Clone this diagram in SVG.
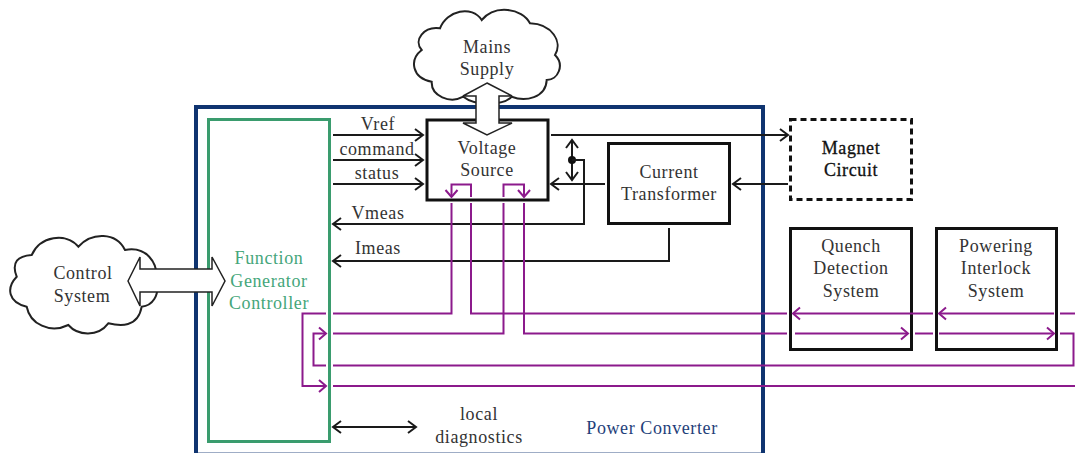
<svg xmlns="http://www.w3.org/2000/svg" width="1075" height="453" viewBox="0 0 1075 453">
<style>
text{font-family:"Liberation Serif","Times New Roman",serif;font-size:18px;letter-spacing:.6px;fill:#333;text-anchor:middle}
.box{fill:#fff;stroke:#111;stroke-width:3}
.cloud{fill:#fff;stroke:#222;stroke-width:2}
.blk{fill:none;stroke:#1a1a1a;stroke-width:2}
.pur{fill:none;stroke:#8c1a8c;stroke-width:2}
.block{fill:#fff;stroke:#222;stroke-width:1.5}
.a{marker-end:url(#ak)}
.b{marker-start:url(#aks);marker-end:url(#ak)}
.p{marker-end:url(#ap)}
</style>
<defs>
<marker id="ak" markerUnits="userSpaceOnUse" markerWidth="20" markerHeight="20" refX="10" refY="10" orient="auto" overflow="visible"><path d="M2,4 L10,10 L2,16" fill="none" stroke="#1a1a1a" stroke-width="2"/></marker>
<marker id="aks" markerUnits="userSpaceOnUse" markerWidth="20" markerHeight="20" refX="10" refY="10" orient="auto-start-reverse" overflow="visible"><path d="M2,4 L10,10 L2,16" fill="none" stroke="#1a1a1a" stroke-width="2"/></marker>
<marker id="ap" markerUnits="userSpaceOnUse" markerWidth="20" markerHeight="20" refX="10" refY="10" orient="auto" overflow="visible"><path d="M3,4 L10,10 L3,16" fill="none" stroke="#8c1a8c" stroke-width="2"/></marker>
</defs>

<g id="mains-supply">
<path class="cloud" d="M421.700,50 C413,40 424,26 440,28.300 C447,10 472,5 481.700,20 C495,4 522,8 530,23.300 C552,24 563,42 555,55 C565,65 558,80 546.700,80 C546,98 525,102 511.700,96.700 C503,106 475,106 463.300,96.700 C450,104 431,96 431.700,81.700 C412,78 409,60 421.700,50 Z"/>
<text x="487" y="53">Mains</text>
<text x="487" y="75">Supply</text>
</g>

<g id="control-system">
<path class="cloud" d="M16.700,276.700 C11,262 18,256 31.700,255 C40,236 66,232 78.300,246.700 C92,232 116,232 125,250 C146,246 158,262 156.700,280 C160,296 152,306 141.700,306.700 C138,328 120,326 108.300,323.300 C98,337 78,336 68.300,325 C50,334 30,324 26.700,306.700 C8,302 6,288 16.700,276.700 Z"/>
<text x="83" y="279">Control</text>
<text x="82" y="302">System</text>
</g>

<g id="power-converter">
<rect x="196" y="107" width="567" height="347.600" fill="none" stroke="#0f3470" stroke-width="4"/>
<text x="652" y="434" style="fill:#1f3f7a">Power Converter</text>
</g>

<g id="function-generator-controller">
<rect x="208.500" y="119.500" width="121" height="322" fill="#fff" stroke="#3a9c6e" stroke-width="3"/>
<text x="269" y="264" style="fill:#45a67a">Function</text>
<text x="269" y="287" style="fill:#45a67a">Generator</text>
<text x="269" y="309" style="fill:#45a67a">Controller</text>
</g>

<g id="voltage-source">
<rect class="box" x="427" y="120" width="121" height="80"/>
<text x="487" y="154">Voltage</text>
<text x="487" y="176">Source</text>
</g>

<g id="current-transformer">
<rect class="box" x="608.500" y="143.500" width="121" height="80"/>
<text x="669" y="178">Current</text>
<text x="669" y="200">Transformer</text>
</g>

<g id="magnet-circuit">
<rect class="box" x="790.500" y="119.500" width="121" height="80" stroke-dasharray="6 4"/>
<text x="851" y="154" style="fill:#111;stroke:#111;stroke-width:.3">Magnet</text>
<text x="851" y="176" style="fill:#111;stroke:#111;stroke-width:.3">Circuit</text>
</g>

<g id="quench-detection-system">
<rect class="box" x="790.500" y="228.500" width="121" height="121"/>
<text x="851" y="252">Quench</text>
<text x="851" y="274">Detection</text>
<text x="851" y="297">System</text>
</g>

<g id="powering-interlock-system">
<rect class="box" x="936.500" y="228.500" width="120" height="121"/>
<text x="996" y="252">Powering</text>
<text x="996" y="274">Interlock</text>
<text x="996" y="297">System</text>
</g>

<g id="connectors">
<path class="blk a" d="M333,135 H423"/>
<path class="blk a" d="M333,160 H423"/>
<path class="blk a" d="M333,184 H423"/>
<path class="blk a" d="M551,135 H788"/>
<path class="blk b" d="M572,140 V180"/>
<circle cx="572" cy="160" r="4" fill="#111"/>
<path class="blk a" d="M572,160 H584 V224 H333"/>
<path class="blk a" d="M669,228 V261 H333"/>
<path class="blk a" d="M605,184 H551"/>
<path class="blk a" d="M788,184 H733"/>
<path class="blk b" d="M333,427 H416"/>

<path class="block" d="M487,83 L512,96 H499 V123 H512 L487,135 L463,123 H476 V96 H463 Z"/>
<path class="block" d="M128,281 L140,257 V269 H212 V257 L225,281 L212,306 V292 H140 V306 Z"/>

<path class="pur" d="M451.500,203 V313.500 H333"/>
<path class="pur p" d="M326,313.500 H302.500 V386 H326" style="marker-end:none"/>
<path class="pur p" d="M302.500,386 H326"/>
<path class="pur" d="M333,386 H1075"/>
<path class="pur" d="M471,203 V313.500 H787"/>
<path class="pur p" d="M915,313.500 H793"/>
<path class="pur" d="M933,313.500 H915"/>
<path class="pur p" d="M1054,313.500 H939"/>
<path class="pur" d="M1075,313.500 H1060"/>
<path class="pur p" d="M471,197 V184.500 H451.500 V197"/>
<path class="pur p" d="M503.500,197 V184.500 H524 V197"/>
<path class="pur" d="M503.500,203 V333.500 H333"/>
<path class="pur" d="M524,203 V333.500 H787"/>
<path class="pur p" d="M795,333.500 H908"/>
<path class="pur" d="M915,333.500 H933"/>
<path class="pur p" d="M939,333.500 H1054"/>
<path class="pur" d="M1060,333.500 H1073.500 V365.500 H333"/>
<path class="pur p" d="M326,365.500 H313.500 V333.500 H326"/>
</g>

<g id="labels">
<text x="378" y="130">Vref</text>
<text x="377" y="155">command</text>
<text x="377" y="179">status</text>
<text x="378" y="219">Vmeas</text>
<text x="378" y="254">Imeas</text>
<text x="479" y="420">local</text>
<text x="479" y="443">diagnostics</text>
</g>
</svg>
